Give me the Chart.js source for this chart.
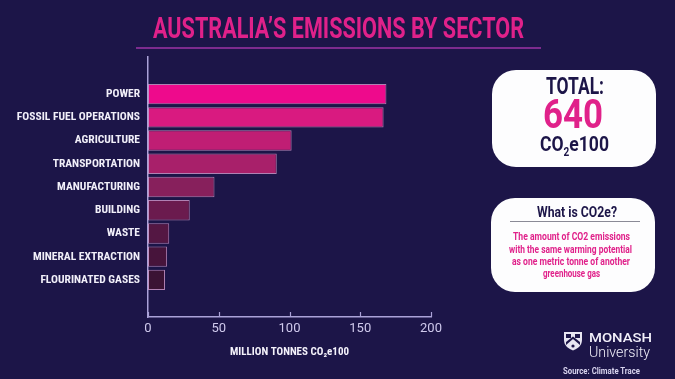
<!DOCTYPE html>
<html>
<head>
<meta charset="utf-8">
<script src="https://cdn.jsdelivr.net/npm/chart.js@4"></script>
<style>
  html, body { margin: 0; padding: 0; background: #1c1548; }
  #wrap { position: relative; width: 675px; height: 379px; overflow: hidden; background: #1c1548; font-family: Roboto, sans-serif; }
  #c { position: absolute; left: 0; top: 0; }
  .t { position: absolute; white-space: nowrap; line-height: 1; transform-origin: left center; font-weight: 700; }
  .box { position: absolute; background: #fdfdfe; border-radius: 24px; }
  #uline { position: absolute; left: 136px; top: 47px; width: 405px; height: 1.5px; background: #7c2b8e; }
  #gline { position: absolute; left: 510px; top: 221px; width: 130px; height: 1px; background: #8a8a96; }
</style>
</head>
<body>
<div id="wrap">
  <canvas id="c" width="675" height="379"></canvas>
  <div id="uline"></div>
  <div class="t" data-x="153" data-y="28" data-w="371" style="font-size:29px;color:#e0218a;">AUSTRALIA’S EMISSIONS BY SECTOR</div>

  <div class="box" style="left:492px;top:70px;width:164px;height:97px;"></div>
  <div class="t" data-x="546" data-y="86" data-w="58" style="font-size:23px;color:#1c1548;">TOTAL:</div>
  <div class="t" data-x="543" data-y="114" data-w="60" style="font-size:41px;color:#e0218a;">640</div>
  <div class="t" data-x="540" data-y="146" data-w="69" style="font-size:21px;color:#1c1548;">CO<sub style="font-size:12px;vertical-align:-5px;">2</sub>e100</div>

  <div class="box" style="left:491px;top:198px;width:164px;height:94px;"></div>
  <div class="t" data-x="537" data-y="212" data-w="80" style="font-size:14px;color:#1c1548;">What is CO2e?</div>
  <div id="gline"></div>
  <div class="t" data-x="513" data-y="236" data-w="117" style="font-size:11px;color:#e0218a;">The amount of CO2 emissions</div>
  <div class="t" data-x="509" data-y="249" data-w="123" style="font-size:11px;color:#e0218a;">with the same warming potential</div>
  <div class="t" data-x="512" data-y="261.5" data-w="118" style="font-size:11px;color:#e0218a;">as one metric tonne of another</div>
  <div class="t" data-x="543" data-y="273.5" data-w="57" style="font-size:11px;color:#e0218a;">greenhouse gas</div>

  <svg style="position:absolute;left:563px;top:331px;" width="20" height="20" viewBox="0 0 20 20">
    <path d="M1 1 H19 V9 C19 15 14 18 10 19.5 C6 18 1 15 1 9 Z" fill="#e8e6f2"/>
    <rect x="3" y="3" width="5" height="4" fill="#1c1548"/>
    <rect x="12" y="3" width="5" height="4" fill="#1c1548"/>
    <path d="M3 14 L10 8 L17 14 L17 11 L10 5.5 L3 11 Z" fill="#1c1548"/>
    <circle cx="10" cy="15" r="1.6" fill="#1c1548"/>
  </svg>
  <div class="t" data-x="589" data-y="337" data-w="63" style="font-size:13px;font-weight:500;color:#f2f0fa;">MONASH</div>
  <div class="t" data-x="589" data-y="352" data-w="61" style="font-size:14px;font-weight:300;color:#f2f0fa;">University</div>
  <div class="t" data-x="563" data-y="371.5" data-w="77" style="font-size:9px;color:#d8d4ee;">Source: Climate Trace</div>
</div>

<script>
// ---- data ----
const sectors = ['POWER', 'FOSSIL FUEL OPERATIONS', 'AGRICULTURE', 'TRANSPORTATION', 'MANUFACTURING', 'BUILDING', 'WASTE', 'MINERAL EXTRACTION', 'FLOURINATED GASES'];
const emissions = [168.5, 166.5, 101.5, 91, 47, 29.5, 15, 13.5, 12];
const xTicks = [0, 50, 100, 150, 200];
const barColors = ['#ee0a8c', '#d91a80', '#c01e74', '#a8206a', '#87205c', '#6b1b4e', '#541743', '#47143b', '#3b1334'];

const condensed = "'Liberation Sans Narrow', 'Roboto Condensed', 'DejaVu Sans Condensed', Roboto, sans-serif";

const tickMarks = {
  id: 'tickMarks',
  afterDraw(chart) {
    const xs = chart.scales.x, ca = chart.chartArea, ctx = chart.ctx;
    ctx.save();
    ctx.strokeStyle = '#aaa2d8';
    ctx.lineWidth = 1.2;
    xTicks.forEach(v => {
      const px = Math.round(xs.getPixelForValue(v)) + 0.5;
      ctx.beginPath();
      ctx.moveTo(px, ca.bottom);
      ctx.lineTo(px, ca.bottom - 5);
      ctx.stroke();
    });
    ctx.restore();
  }
};

new Chart(document.getElementById('c'), {
  type: 'bar',
  data: {
    datasets: [{
      data: emissions.map((v, i) => ({ x: v, y: i })),
      backgroundColor: barColors,
      borderColor: 'rgba(225,165,215,0.75)',
      borderWidth: 1,
      borderSkipped: false,
      barPercentage: 0.88,
      categoryPercentage: 1
    }]
  },
  options: {
    indexAxis: 'y',
    responsive: false,
    animation: false,
    events: [],
    layout: { padding: { left: 0, right: 244, top: 57, bottom: 0 } },
    plugins: { legend: { display: false }, tooltip: { enabled: false } },
    scales: {
      y: {
        type: 'linear',
        offset: false,
        reverse: true,
        min: -1.6,
        max: 9.6,
        afterBuildTicks: s => { s.ticks = sectors.map((_, i) => ({ value: i })); },
        afterFit: s => { s.width = 148; },
        grid: { display: false, drawTicks: false, offset: false },
        border: { display: true, color: '#aaa2d8', width: 1.5 },
        ticks: {
          autoSkip: false,
          padding: 8,
          color: '#f1eff9',
          font: { family: condensed, size: 11.5, weight: 'bold' },
          callback: v => sectors[v]
        }
      },
      x: {
        type: 'linear',
        min: 0,
        max: 200,
        afterBuildTicks: s => { s.ticks = xTicks.map(v => ({ value: v })); },
        afterFit: s => { s.height = 62; },
        grid: { display: false, drawTicks: false },
        border: { display: true, color: '#aaa2d8', width: 1.5 },
        ticks: {
          padding: 4,
          color: '#cfc9ec',
          font: { family: "Roboto, sans-serif", size: 13 }
        },
        title: {
          display: true,
          text: 'MILLION TONNES CO₂e100',
          color: '#f4f2fb',
          padding: { top: 0, bottom: 20 },
          font: { family: condensed, size: 11, weight: 'bold' }
        }
      }
    }
  },
  plugins: [tickMarks]
});

function fitTexts() {
  document.querySelectorAll('.t').forEach(el => {
    const x = +el.dataset.x, y = +el.dataset.y, w = +el.dataset.w;
    el.style.transform = 'none';
    const r = el.getBoundingClientRect();
    el.style.left = x + 'px';
    el.style.top = (y - r.height / 2) + 'px';
    el.style.transform = 'scaleX(' + (w / r.width) + ')';
  });
}
fitTexts();
if (document.fonts && document.fonts.ready) document.fonts.ready.then(fitTexts);
</script>
</body>
</html>
